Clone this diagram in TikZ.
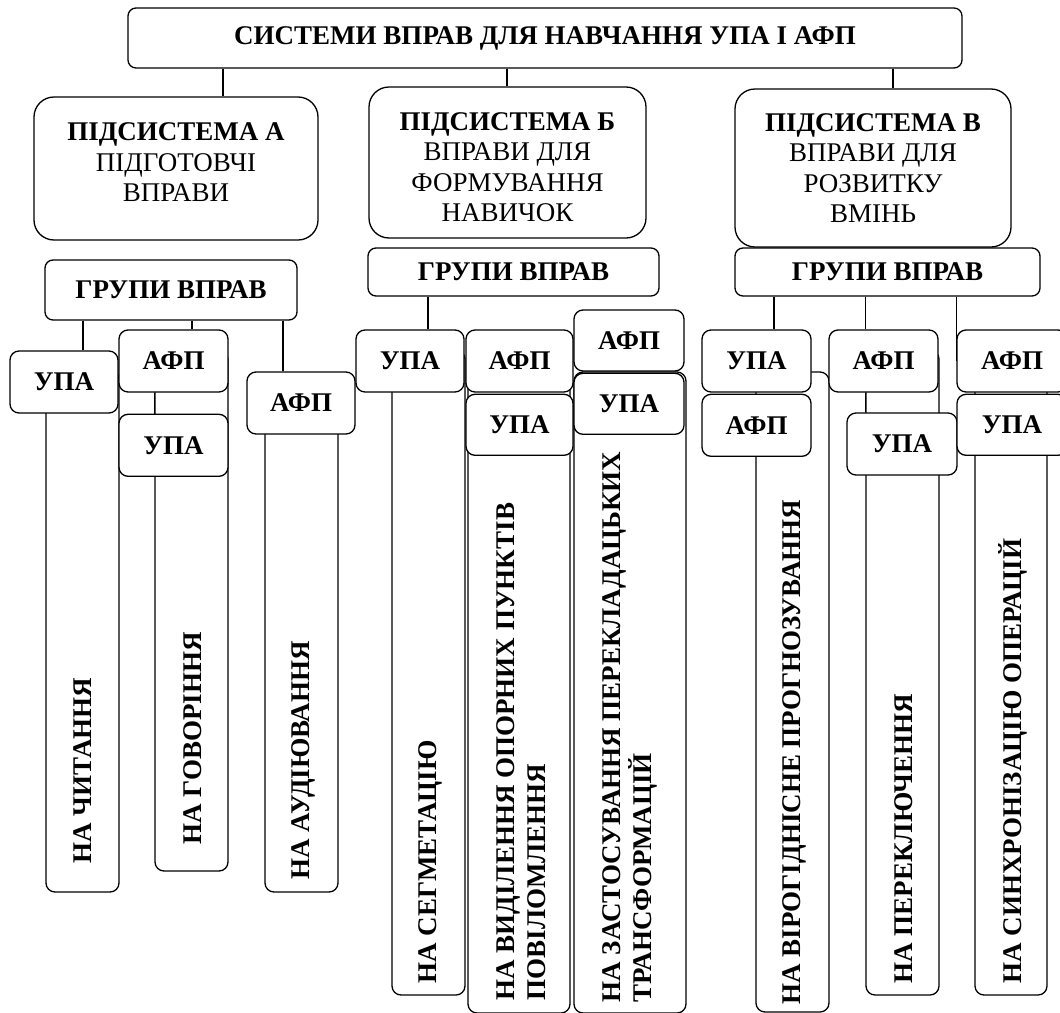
\documentclass[tikz,border=0pt]{standalone}
\usepackage{fontspec}
\setmainfont{Liberation Serif}
\usetikzlibrary{positioning}

\begin{document}
\begin{tikzpicture}[
    x=1pt, y=-1pt,
    line width=1.3pt,
    mainbox/.style={rectangle, rounded corners=8pt, draw, minimum width=834pt, minimum height=60pt, font=\bfseries\fontsize{27}{30}\selectfont},
    subbox/.style={rectangle, rounded corners=20pt, draw, align=center, font=\fontsize{27}{30.5}\selectfont},
    groupbox/.style={rectangle, rounded corners=8pt, draw, font=\bfseries\fontsize{27}{30}\selectfont},
    tag/.style={rectangle, rounded corners=9pt, draw, fill=white, minimum width=108pt, minimum height=62pt, font=\bfseries\fontsize{27}{30}\selectfont},
    leaf/.style={rectangle, rounded corners=9pt, draw, minimum width=73pt},
    vtext/.style={rotate=90, anchor=west, inner sep=0pt, align=left, font=\bfseries\fontsize{27}{31}\selectfont}
]
\useasboundingbox (0,0) rectangle (1060,1012);

% Довгі блоки (позаду)
\node (leafRead) [leaf, minimum height=522pt] at (82.5,631) {};
\node (leafSpeak) [leaf, minimum height=521pt] at (191.5,610.5) {};
\node (leafAudio) [leaf, minimum height=502pt] at (301.5,641) {};
\node (leafSeg) [leaf, minimum height=645pt] at (428.5,672.5) {};
\node (leafKey) [leaf, minimum width=102pt, minimum height=663pt] at (519,681.5) {};
\node (leafTrans) [leaf, minimum width=112pt, minimum height=641pt] at (630,692.5) {};
\node (leafProb) [leaf, minimum height=640pt] at (792.5,692) {};
\node (leafSwitch) [leaf, minimum height=645pt] at (902.5,672.5) {};
\node (leafSync) [leaf, minimum width=72pt, minimum height=645pt] at (1011,672.5) {};

% Написи
\node (tRead) [vtext] at (83,864) {НА ЧИТАННЯ};
\node (tSpeak) [vtext] at (193,845) {НА ГОВОРІННЯ};
\node (tAudio) [vtext] at (303,880) {НА АУДІЮВАННЯ};
\node (tSeg) [vtext] at (430,984) {НА СЕГМЕТАЦІЮ};
\node (tKey) [vtext] at (521,1001) {НА ВИДІЛЕННЯ ОПОРНИХ ПУНКТІВ\\ПОВІЛОМЛЕННЯ};
\node (tTrans) [vtext] at (630,1003) {НА ЗАСТОСУВАННЯ ПЕРЕКЛАДАЦЬКИХ\\ТРАНСФОРМАЦІЙ};
\node (tProb) [vtext] at (794,1005) {НА ВІРОГІДНІСНЕ ПРОГНОЗУВАННЯ};
\node (tSwitch) [vtext] at (904,984) {НА ПЕРЕКЛЮЧЕННЯ};
\node (tSync) [vtext] at (1013,984) {НА СИНХРОНІЗАЦІЮ ОПЕРАЦІЙ};

% Верхні блоки
\node (top) [mainbox] at (545,38) {СИСТЕМИ ВПРАВ ДЛЯ НАВЧАННЯ УПА І АФП};
\node (subA) [subbox, minimum width=284pt, minimum height=143pt, text depth=12pt] at (176,168.5) {\textbf{ПІДСИСТЕМА А}\\ПІДГОТОВЧІ\\ВПРАВИ};
\node (subB) [subbox, minimum width=277pt, minimum height=151pt, text height=119pt] at (507.5,162.5) {\textbf{ПІДСИСТЕМА Б}\\ВПРАВИ ДЛЯ\\ФОРМУВАННЯ\\НАВИЧОК};
\node (subV) [subbox, minimum width=276pt, minimum height=158pt] at (873,168) {\textbf{ПІДСИСТЕМА В}\\ВПРАВИ ДЛЯ\\РОЗВИТКУ\\ВМІНЬ};
\node (grpA) [groupbox, minimum width=252pt, minimum height=60pt] at (171,290) {ГРУПИ ВПРАВ};
\node (grpB) [groupbox, minimum width=291pt, minimum height=48pt] at (513.5,272) {ГРУПИ ВПРАВ};
\node (grpV) [groupbox, minimum width=305pt, minimum height=48pt] at (887.5,272) {ГРУПИ ВПРАВ};

% УПА / АФП
\node (upaA) [tag] at (64,382) {УПА};
\node (afpA1) [tag, minimum width=109pt] at (173.5,361) {АФП};
\node (upaA2) [tag, minimum width=109pt, below=21pt of afpA1] {УПА};
\node (afpA3) [tag] at (301,403) {АФП};
\node (upaB1) [tag] at (410,361) {УПА};
\node (afpB2) [tag, minimum width=107pt] at (519.5,361) {АФП};
\node (upaB2) [tag, minimum width=107pt, minimum height=61pt, below=1pt of afpB2] {УПА};
\node (afpB3) [tag, minimum width=110pt, minimum height=61pt] at (629,340.5) {АФП};
\node (upaB3) [tag, minimum width=110pt, minimum height=61pt, below=1pt of afpB3] {УПА};
\node (upaV1) [tag, minimum width=109pt] at (756.5,361) {УПА};
\node (afpV1) [tag, minimum width=109pt, below=1pt of upaV1] {АФП};
\node (afpV2) [tag, minimum width=109pt] at (883.5,361) {АФП};
\node (upaV2) [tag, minimum width=110pt] at (902,444) {УПА};
\node (afpV3) [tag, minimum width=110pt] at (1012,361) {АФП};
\node (upaV3) [tag, minimum width=110pt, minimum height=61pt, below=1pt of afpV3] {УПА};

% Лінії
\draw (top.south -| 223,0) -- (subA.north -| 223,0);
\draw (top.south -| 507,0) -- (subB.north -| 507,0);
\draw (top.south -| 893,0) -- (subV.north -| 893,0);
\draw (grpA.south -| 83,0) -- (upaA.north -| 83,0);
\draw (grpA.south -| 192,0) -- (afpA1.north -| 192,0);
\draw (grpA.south -| 283,0) -- (afpA3.north -| 283,0);
\draw (afpA1.south -| leafSpeak.west) -- (upaA2.north -| leafSpeak.west);
\draw (grpB.south -| 428,0) -- (upaB1.north -| 428,0);
\draw (grpV.south -| 774,0) -- (upaV1.north -| 774,0);
\draw (grpV.south -| leafSwitch.west) -- (afpV2.north -| leafSwitch.west);
\draw (afpV2.south -| leafSwitch.west) -- (upaV2.north -| leafSwitch.west);
\draw (grpV.south -| afpV3.west) -- (afpV3.west);

\end{tikzpicture}
\end{document}
